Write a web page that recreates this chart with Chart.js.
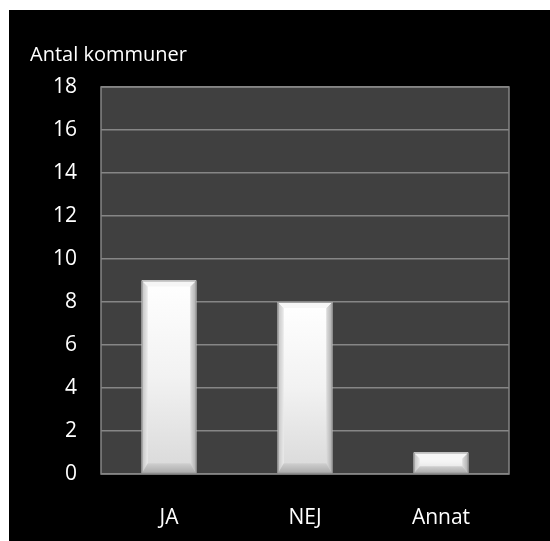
<!DOCTYPE html>
<html>
<head>
<meta charset="utf-8">
<script src="https://cdn.jsdelivr.net/npm/chart.js@4.4.0/dist/chart.umd.min.js"></script>
<style>
  html, body { margin: 0; padding: 0; background: #ffffff; }
  #wrap { position: absolute; left: 9px; top: 10px; width: 541px; height: 531px; background: #000000; }
</style>
</head>
<body>
<div id="wrap"><canvas id="kommunChart" width="541" height="531"></canvas></div>
<script>
const categories = ['JA', 'NEJ', 'Annat'];
const antal = [9, 8, 1];
const yTicks = [0, 2, 4, 6, 8, 10, 12, 14, 16, 18];
const axisTitle = 'Antal kommuner';

const fontName = "'Open Sans', 'DejaVu Sans', sans-serif";

// dark grey plot area behind the bars
const plotBackground = {
  id: 'plotBackground',
  beforeDraw(chart) {
    const a = chart.chartArea;
    const ctx = chart.ctx;
    ctx.save();
    ctx.fillStyle = '#404040';
    ctx.fillRect(a.left, a.top, a.right - a.left, a.bottom - a.top);
    ctx.restore();
  },
  afterDraw(chart) {
    const a = chart.chartArea;
    const ctx = chart.ctx;
    ctx.save();
    ctx.strokeStyle = '#858585';
    ctx.lineWidth = 1.5;
    ctx.strokeRect(a.left, a.top, a.right - a.left, a.bottom - a.top);
    ctx.restore();
  }
};

// bevelled "button" look on the bars
const bevelBars = {
  id: 'bevelBars',
  afterDatasetsDraw(chart) {
    const ctx = chart.ctx;
    const meta = chart.getDatasetMeta(0);
    meta.data.forEach(bar => {
      const l = bar.x - bar.width / 2;
      const r = bar.x + bar.width / 2;
      const t = Math.min(bar.y, bar.base);
      const b = Math.max(bar.y, bar.base);
      const h = b - t;
      const e = Math.min(6, h / 3);
      const eb = Math.min(10, h / 3);
      ctx.save();
      // face
      let g = ctx.createLinearGradient(0, t, 0, b);
      g.addColorStop(0, '#ffffff');
      g.addColorStop(0.5, '#f2f2f2');
      g.addColorStop(1, '#d9d9d9');
      ctx.fillStyle = g;
      ctx.fillRect(l, t, r - l, h);
      // left bevel
      g = ctx.createLinearGradient(l, 0, l + e, 0);
      g.addColorStop(0, '#c2c2c2');
      g.addColorStop(1, '#ebebeb');
      ctx.fillStyle = g;
      ctx.beginPath();
      ctx.moveTo(l, t); ctx.lineTo(l + e, t + e); ctx.lineTo(l + e, b - eb); ctx.lineTo(l, b);
      ctx.closePath(); ctx.fill();
      // right bevel
      g = ctx.createLinearGradient(r - e, 0, r, 0);
      g.addColorStop(0, '#dedede');
      g.addColorStop(1, '#adadad');
      ctx.fillStyle = g;
      ctx.beginPath();
      ctx.moveTo(r, t); ctx.lineTo(r - e, t + e); ctx.lineTo(r - e, b - eb); ctx.lineTo(r, b);
      ctx.closePath(); ctx.fill();
      // top bevel
      ctx.fillStyle = '#f6f6f6';
      ctx.beginPath();
      ctx.moveTo(l, t); ctx.lineTo(r, t); ctx.lineTo(r - e, t + e); ctx.lineTo(l + e, t + e);
      ctx.closePath(); ctx.fill();
      // bottom bevel
      g = ctx.createLinearGradient(0, b - eb, 0, b);
      g.addColorStop(0, '#cfcfcf');
      g.addColorStop(1, '#a9a9a9');
      ctx.fillStyle = g;
      ctx.beginPath();
      ctx.moveTo(l, b); ctx.lineTo(r, b); ctx.lineTo(r - e, b - eb); ctx.lineTo(l + e, b - eb);
      ctx.closePath(); ctx.fill();
      ctx.strokeStyle = '#a0a0a0';
      ctx.lineWidth = 1;
      ctx.strokeRect(l + 0.5, t + 0.5, r - l - 1, h - 1);
      ctx.restore();
    });
  }
};

const canvas = document.getElementById('kommunChart');
new Chart(canvas, {
  type: 'bar',
  data: {
    labels: categories,
    datasets: [{
      data: antal,
      backgroundColor: '#e6e6e6',
      borderWidth: 0,
      barPercentage: 0.4,
      categoryPercentage: 1
    }]
  },
  options: {
    responsive: false,
    animation: false,
    layout: { padding: { left: 21, right: 41, top: 0, bottom: 0 } },
    plugins: {
      legend: { display: false },
      tooltip: { enabled: false },
      title: {
        display: true,
        text: axisTitle,
        align: 'start',
        color: '#ffffff',
        font: { family: fontName, size: 20, weight: 'normal' },
        padding: { top: 33, bottom: 20 }
      }
    },
    scales: {
      x: {
        grid: { display: false, drawTicks: false },
        border: { display: false },
        ticks: {
          color: '#ffffff',
          font: { family: fontName, size: 21 },
          padding: 31
        },
        afterFit(scale) { scale.height = 67; }
      },
      y: {
        min: 0,
        max: 18,
        afterBuildTicks(scale) { scale.ticks = yTicks.map(v => ({ value: v })); },
        grid: { color: '#868686', lineWidth: 1.5, drawTicks: false },
        border: { display: false },
        ticks: {
          color: '#ffffff',
          font: { family: fontName, size: 21 },
          padding: 24
        },
        afterFit(scale) { scale.width = 71; }
      }
    }
  },
  plugins: [plotBackground, bevelBars]
});
</script>
</body>
</html>
